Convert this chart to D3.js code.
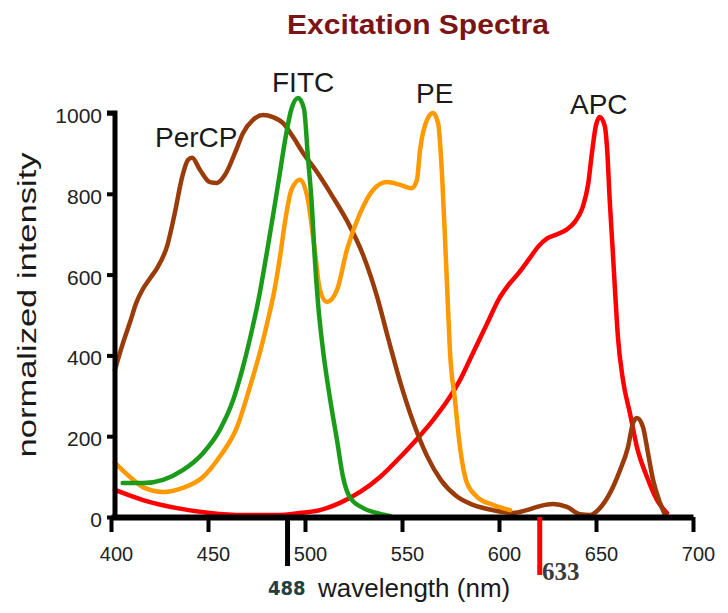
<!DOCTYPE html>
<html>
<head>
<meta charset="utf-8">
<script src="https://cdn.jsdelivr.net/npm/d3@7"></script>
<style>
  body { margin: 0; background: #fff; }
  svg { display: block; font-family: "Liberation Sans", Arial, sans-serif; }
</style>
</head>
<body>
<div id="spectra"></div>
<script>

// excitation spectra, values (wavelength nm, normalized intensity)

const perCP = [[402,364],[406,428],[410,485],[413,530],[416.5,565],[420,590],[424,618],[429,672],[433,755],
  [436.6,840],[439.7,884],[441.8,889],[445.9,859],[451,829],[454.6,827],[458.8,847],[463.9,901],[468,950],
  [473.2,983],[478.4,995],[483.5,990],[488.7,975],[493.8,941],[499,901],[506,855],[514,795],[522,730],
  [530,648],[537,548],[543,440],[549,335],[556,232],[563,150],[570,92],[578,52],
  [586.6,30],[596.9,17],[607.2,10],[614.4,17],[621.1,27],[627.8,32],[635,25],[641.8,7],[646.9,5],[652,22],
  [657.2,59],[662.4,116],[666.5,173],[669.1,233],[671.1,245],[674.2,223],[676.8,158],[679.4,92],[683,35],[685.6,5]];

const fitc = [[406,84],[416.5,84],[426.8,92],[437,116],[447.4,158],[456,215],[463,290],[468,371],[473,470],
  [476,537],[480,645],[484,760],[487,850],[490,940],[493,1010],[496.5,1037],[499.5,1010],[501.5,891],
  [503.6,767],[505,644],[506.7,530],[509.3,413],[513,290],[516.5,190],[519.6,99],[523,50],[530,22],[537,10],[544,2]];

const pe = [[402,134],[409.8,99],[416.5,74],[426.8,62],[437,72],[447.4,99],[456,149],[465,223],[471.6,322],
  [478,430],[481,490],[484,555],[487,640],[490,740],[493,810],[497.4,835],[501.5,785],[505,661],
  [507.7,562],[511.3,532],[516.5,562],[521.6,661],[528.4,752],[535,809],[542.3,829],[549,822],[555,814],
  [557.7,834],[559.3,908],[562.9,983],[566,1000],[568.6,975],[570.6,851],[572.2,686],[573.7,520],[574.7,413],
  [577.3,290],[579.9,173],[583.5,84],[588.7,50],[596.9,30],[605.7,17]];

const apc = [[402,67],[416.5,42],[434,22],[451,10],[468,5],[485.6,5],[497.4,10],[507.7,17],[518,35],[528.4,62],
  [538.7,99],[549,148],[559,200],[566,240],[573,285],[580,340],[586.6,406],[593.8,478],[600,540],
  [605,575],[610,603],[615,635],[620,668],[625,690],[630,700],[635,712],[639,730],[643,765],[646,825],
  [648,905],[650,970],[652,990],[654.5,968],[656,890],[657,790],[658.5,670],[660,545],[661.3,446],[663.9,339],
  [667.5,257],[671.1,173],[676.3,99],[681.4,42],[686.6,10]];

const seriesNames = ["PerCP", "FITC", "PE", "APC"];
const xTicks = [400, 450, 500, 550, 600, 650, 700];
const yTicks = [0, 200, 400, 600, 800, 1000];
const laserPos = [491, 621];       // where the marks sit in the picture
const laserLabels = ["488", "633"];

const width = 728;
const height = 613;
const margin = {left: 111, right: 35, top: 113, bottom: 96};

const svg = d3.select("#spectra")
  .append("svg")
  .attr("width", width)
  .attr("height", height);

const xScale = d3.scaleLinear()
  .domain([400, 700])
  .range([margin.left, width - margin.right]);

const yScale = d3.scaleLinear()
  .domain([0, 1000])
  .range([height - margin.bottom, margin.top]);

// title
svg.append("text")
  .attr("x", 418)
  .attr("y", 34)
  .attr("text-anchor", "middle")
  .attr("font-size", "28px")
  .attr("font-weight", "bold")
  .attr("fill", "#7b1416")
  .attr("textLength", 262)
  .attr("lengthAdjust", "spacingAndGlyphs")
  .text("Excitation Spectra");

// curves
const line = d3.line()
  .x(d => xScale(d[0]))
  .y(d => yScale(d[1]))
  .curve(d3.curveMonotoneX);

const curves = [
  {name: "APC", data: apc, color: "#ff0000"},
  {name: "PerCP", data: perCP, color: "#9a3b0a"},
  {name: "PE", data: pe, color: "#ff9900"},
  {name: "FITC", data: fitc, color: "#1a9c1a"}
];

svg.selectAll(".curve")
  .data(curves)
  .enter()
  .append("path")
    .attr("class", "curve")
    .attr("d", d => line(d.data))
    .attr("fill", "none")
    .attr("stroke", d => d.color)
    .attr("stroke-width", 4.5)
    .attr("stroke-linejoin", "round")
    .attr("stroke-linecap", "round");

// labels over the peaks
const labelPos = {PerCP: [155, 147], FITC: [272, 92], PE: [416, 103], APC: [570, 114]};
svg.selectAll(".curve-label")
  .data(seriesNames)
  .enter()
  .append("text")
    .attr("class", "curve-label")
    .attr("x", d => labelPos[d][0])
    .attr("y", d => labelPos[d][1])
    .attr("font-size", "28px")
    .attr("fill", "#1a1a1a")
    .text(d => d);

// y axis
const yAxis = svg.append("g")
  .attr("transform", `translate(${margin.left + 4}, 0)`)
  .call(d3.axisLeft(yScale).tickValues(yTicks).tickFormat(d3.format("d"))
    .tickSize(8).tickSizeOuter(0).tickPadding(5));
yAxis.select(".domain")
  .attr("stroke-width", 5)
  .attr("d", `M-8,${yScale(1000)}H0V${yScale(0)}`);
yAxis.selectAll(".tick line").attr("stroke-width", 4);
yAxis.selectAll(".tick text")
  .attr("font-size", "21px")
  .attr("font-family", "Liberation Sans, Arial, sans-serif")
  .attr("fill", "#222")
  .attr("dy", "0.45em");

// x axis
const xAxis = svg.append("g")
  .attr("transform", `translate(0, ${height - margin.bottom})`)
  .call(d3.axisBottom(xScale).tickValues(xTicks).tickSize(15).tickSizeOuter(0).tickPadding(15));
xAxis.select(".domain").attr("stroke-width", 6);
xAxis.selectAll(".tick line").attr("stroke-width", 4);
xAxis.selectAll(".tick text")
  .attr("font-size", "20px")
  .attr("font-family", "Liberation Sans, Arial, sans-serif")
  .attr("fill", "#222")
  .attr("dx", 5);

// laser lines under the axis
const laserColor = ["#000", "#ff0000"];
const laserEnd = [566, 575];
svg.selectAll(".laser")
  .data(laserPos)
  .enter()
  .append("line")
    .attr("class", "laser")
    .attr("x1", d => xScale(d))
    .attr("x2", d => xScale(d))
    .attr("y1", yScale(0))
    .attr("y2", (d, i) => laserEnd[i])
    .attr("stroke", (d, i) => laserColor[i])
    .attr("stroke-width", 5);

svg.append("text")
  .attr("x", 268)
  .attr("y", 595)
  .attr("font-family", "Liberation Sans Narrow, DejaVu Sans Condensed, sans-serif")
  .attr("font-weight", "bold")
  .attr("font-size", "20px")
  .attr("fill", "#21403f")
  .text(laserLabels[0]);

svg.append("text")
  .attr("x", 542)
  .attr("y", 580)
  .attr("font-family", "Liberation Serif, DejaVu Serif, serif")
  .attr("font-weight", "bold")
  .attr("font-size", "25px")
  .attr("fill", "#3a3a3a")
  .text(laserLabels[1]);

// axis titles
svg.append("text")
  .attr("x", 318)
  .attr("y", 597)
  .attr("font-size", "26px")
  .attr("fill", "#1a1a1a")
  .text("wavelength (nm)");

svg.append("text")
  .attr("transform", "translate(36, 305) rotate(-90)")
  .attr("text-anchor", "middle")
  .attr("font-size", "26px")
  .attr("fill", "#1a1a1a")
  .attr("textLength", 305)
  .attr("lengthAdjust", "spacingAndGlyphs")
  .text("normalized intensity");

</script>
</body>
</html>
